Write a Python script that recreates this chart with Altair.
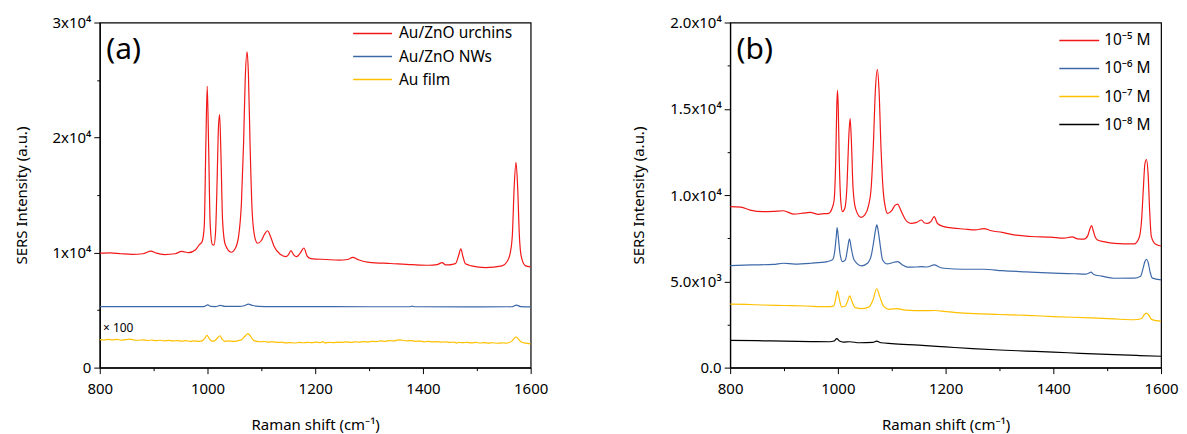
import altair as alt
import pandas as pd

FONT = "Noto Sans"

# ---------------- Panel (a) ----------------
a_series = ["Au/ZnO urchins", "Au/ZnO NWs", "Au film"]
a_colors = ["#F21818", "#3D68A8", "#FFC000"]

urchins_x = [800, 820, 840, 860, 880, 895, 905, 920, 940, 952, 965, 978, 985, 990, 994, 997, 999.5, 1002, 1005,
             1009, 1012, 1015, 1018, 1020, 1022.5, 1025, 1028, 1033, 1044, 1052, 1058, 1063, 1067, 1070, 1073.5,
             1076, 1079, 1083, 1088, 1093, 1100, 1106, 1111.5, 1117, 1124, 1135, 1145.5, 1150, 1155, 1160, 1165.5,
             1172, 1179, 1185, 1192, 1220, 1244, 1260, 1270, 1280, 1300, 1340, 1380, 1411, 1426, 1435.8, 1442,
             1448, 1455, 1460.5, 1466, 1470.4, 1474, 1479, 1490, 1516, 1547, 1556, 1562, 1566, 1569.5, 1572.8,
             1576, 1579, 1582.6, 1590, 1600]
urchins_y = [9950, 9980, 9900, 9850, 9900, 10120, 9950, 9830, 9900, 10100, 10000, 10250, 10700, 10950, 12300,
             19500, 24450, 19500, 12500, 10700, 10650, 11800, 16500, 20500, 22000, 18500, 12800, 10700, 10030,
             10400, 11500, 14300, 19500, 25000, 27450, 25500, 19500, 13500, 11300, 10810, 11050, 11600, 11900,
             11400, 10500, 9850, 9650, 9800, 10170, 9800, 9650, 9950, 10400, 9700, 9480, 9400, 9340, 9400, 9580,
             9380, 9150, 9050, 8950, 8900, 8950, 9130, 8930, 8930, 8980, 9050, 9700, 10320, 9700, 9020, 8850,
             8700, 8845, 9200, 9945, 11500, 15800, 17835, 15500, 11500, 9650, 8870, 8760]

nws_x = [800, 900, 990, 995, 1000.5, 1006, 1015, 1024, 1032, 1060, 1068, 1076, 1084, 1095, 1120, 1200, 1300,
         1375, 1380, 1385, 1500, 1565, 1573.5, 1582, 1600]
nws_y = [5300, 5300, 5300, 5330, 5460, 5320, 5310, 5410, 5320, 5320, 5380, 5520, 5400, 5330, 5310, 5300, 5290,
         5290, 5340, 5290, 5280, 5290, 5440, 5300, 5280]

film_x = [800, 808, 816, 824, 832, 840, 848, 856, 864, 872, 880, 888, 896, 904, 912, 920, 928, 936, 944, 952,
          960, 968, 976, 984, 990, 995, 999, 1003, 1008, 1013, 1018, 1023, 1027, 1032, 1040, 1048, 1056, 1064,
          1070, 1075, 1080, 1085, 1090, 1098, 1106, 1114, 1122, 1130, 1138, 1146, 1154, 1162, 1170, 1178, 1186,
          1194, 1202, 1210, 1214, 1218, 1226, 1234, 1242, 1250, 1258, 1266, 1274, 1282, 1290, 1298, 1306, 1314,
          1322, 1330, 1338, 1346, 1354, 1362, 1370, 1378, 1386, 1394, 1402, 1410, 1418, 1426, 1434, 1442, 1450,
          1458, 1462, 1466, 1474, 1482, 1490, 1498, 1506, 1514, 1522, 1530, 1538, 1546, 1554, 1560, 1565, 1570,
          1573.5, 1577, 1582, 1588, 1594, 1600]
film_y = [2440, 2400, 2460, 2410, 2450, 2390, 2430, 2470, 2400, 2380, 2420, 2360, 2400, 2340, 2380, 2330, 2370,
          2320, 2350, 2300, 2340, 2290, 2320, 2280, 2320, 2550, 2800, 2550, 2300, 2320, 2550, 2770, 2500, 2290,
          2320, 2280, 2330, 2450, 2750, 2950, 2720, 2400, 2300, 2250, 2270, 2220, 2240, 2190, 2210, 2150, 2180,
          2140, 2190, 2160, 2200, 2170, 2210, 2180, 2260, 2150, 2200, 2170, 2210, 2190, 2230, 2200, 2240, 2210,
          2260, 2230, 2290, 2260, 2320, 2290, 2350, 2320, 2420, 2380, 2330, 2350, 2290, 2310, 2250, 2280, 2230,
          2260, 2210, 2240, 2190, 2220, 2130, 2200, 2170, 2200, 2150, 2190, 2140, 2170, 2130, 2160, 2120, 2150,
          2130, 2180, 2300, 2580, 2660, 2500, 2250, 2150, 2110, 2060]

# ---------------- Panel (b) ----------------
b_series = ["10⁻⁵ M", "10⁻⁶ M", "10⁻⁷ M", "10⁻⁸ M"]
b_colors = ["#F21818", "#3D68A8", "#FFC000", "#000000"]

m5_x = [800, 820, 837, 862, 880, 899, 917.6, 935, 948.5, 964, 975, 983, 988.7, 993, 996, 998, 999.3, 1000.6,
        1002.6, 1005.5, 1008.6, 1013, 1017, 1020, 1022.7, 1025, 1028, 1033, 1043, 1050, 1057, 1062, 1066,
        1069.5, 1073.4, 1076.5, 1080, 1084, 1088, 1092, 1100, 1106, 1111, 1117, 1125, 1135.4, 1145, 1155.2,
        1161, 1166.4, 1173, 1178.8, 1185, 1197, 1215, 1234, 1255, 1271, 1285, 1305, 1327, 1360, 1395, 1420,
        1435, 1445, 1457, 1464, 1468, 1471, 1474.5, 1478, 1482, 1494, 1513, 1550, 1559, 1564, 1567, 1570,
        1573, 1576, 1579, 1582, 1590, 1600]
m5_y = [9325, 9300, 9130, 9035, 9050, 9090, 8900, 8950, 9000, 8885, 8920, 8940, 9190, 9700, 12000, 15200, 16070,
        15200, 12000, 9600, 9035, 9250, 10600, 13200, 14430, 13200, 10500, 9200, 8710, 8850, 9400, 10500,
        13000, 16000, 17270, 16000, 12800, 10300, 9300, 8940, 9100, 9400, 9480, 9100, 8600, 8365, 8400, 8555,
        8380, 8365, 8480, 8745, 8350, 8170, 8080, 8035, 7980, 8060, 7930, 7840, 7690, 7600, 7560, 7500, 7580,
        7460, 7450, 7650, 8050, 8230, 7900, 7550, 7400, 7300, 7200, 7170, 7500, 8600, 10300, 11800, 12060,
        11200, 9000, 7590, 7150, 7050]

m6_x = [800, 840, 880, 899, 920, 950, 980, 990, 994, 997, 998.6, 1001, 1004, 1008.6, 1014, 1018, 1021.5, 1025,
        1030, 1044, 1055, 1062, 1067, 1070, 1072.4, 1075, 1079, 1083, 1092, 1101, 1111, 1120, 1129, 1145, 1155,
        1165, 1179, 1190, 1197, 1234, 1271, 1305, 1350, 1400, 1440, 1460, 1466, 1470, 1475, 1490, 1513, 1550,
        1562, 1567, 1570, 1573, 1576, 1580, 1584, 1600]
m6_y = [5915, 5950, 5980, 6050, 6000, 6050, 6145, 6250, 6700, 7600, 8110, 7500, 6600, 6145, 6250, 6900, 7460,
        6900, 6250, 5900, 6050, 6500, 7400, 8000, 8270, 7900, 7000, 6240, 6010, 6080, 6145, 5950, 5820, 5830,
        5855, 5830, 5950, 5800, 5760, 5700, 5700, 5620, 5550, 5480, 5440, 5420, 5480, 5530, 5400, 5300, 5180,
        5185, 5300, 5800, 6150, 6280, 6100, 5500, 5185, 5090]

m7_x = [800, 830, 860, 900, 940, 980, 992, 996, 999.3, 1002.5, 1007, 1013, 1018, 1022, 1026, 1032, 1045, 1058,
        1065, 1072, 1078, 1085, 1095, 1110, 1125, 1160, 1180, 1200, 1234, 1300, 1350, 1400, 1470, 1513, 1550,
        1564, 1569, 1573, 1577, 1583, 1600]
m7_y = [3680, 3660, 3630, 3600, 3570, 3530, 3560, 4000, 4450, 4000, 3520, 3540, 3850, 4160, 3850, 3480, 3420,
        3520, 3900, 4570, 4100, 3550, 3380, 3420, 3330, 3300, 3310, 3250, 3160, 3080, 3030, 2960, 2880, 2820,
        2775, 2850, 3080, 3160, 3050, 2780, 2690]

m8_x = [800, 850, 900, 950, 985, 993, 998, 1003, 1010, 1022, 1040, 1065, 1072, 1080, 1100, 1150, 1200, 1250,
        1300, 1350, 1400, 1450, 1513, 1560, 1600]
m8_y = [1580, 1560, 1530, 1510, 1500, 1540, 1680, 1540, 1480, 1500, 1440, 1460, 1530, 1440, 1390, 1300, 1200,
        1100, 1020, 960, 900, 830, 750, 700, 660]


def long_df(pairs, names):
    rows = []
    for name, (xs, ys) in zip(names, pairs):
        for x, y in zip(xs, ys):
            rows.append({"shift": x, "intensity": y, "series": name})
    return pd.DataFrame(rows)


df_a = long_df([(urchins_x, urchins_y), (nws_x, nws_y), (film_x, film_y)], a_series)
df_b = long_df([(m5_x, m5_y), (m6_x, m6_y), (m7_x, m7_y), (m8_x, m8_y)], b_series)

W, H = 432, 346


def panel(df, names, colors, ymax, yvalues, ylabel_expr, ymajor_test, label, label_y,
          leg_x0, leg_x1, leg_tx, leg_top, leg_gap, extra=None):
    x = alt.X("shift:Q",
              scale=alt.Scale(domain=[800, 1600], nice=False, zero=False),
              axis=alt.Axis(title="Raman shift (cm⁻¹)", values=list(range(800, 1601, 50)), format="d",
                            labelExpr="datum.value % 200 === 0 ? datum.label : ''",
                            tickSize={"condition": {"test": "datum.value % 200 === 0", "value": 6}, "value": 3},
                            labelFlush=False, labelOverlap=False,
                            grid=False, labelPadding=8, titlePadding=21))
    y = alt.Y("intensity:Q",
              scale=alt.Scale(domain=[0, ymax], nice=False),
              axis=alt.Axis(title="SERS Intensity (a.u.)", values=yvalues, labelExpr=ylabel_expr,
                            tickSize={"condition": {"test": ymajor_test, "value": 6}, "value": 3},
                            labelFlush=False, labelOverlap=False,
                            grid=False, labelPadding=3, titlePadding=23))
    color = alt.Color("series:N", scale=alt.Scale(domain=names, range=colors), legend=None)

    lines = alt.Chart(df).mark_line(strokeWidth=1.2, interpolate="monotone", clip=True).encode(
        x=x, y=y, color=color, detail="series:N")

    lab = pd.DataFrame({"shift": [812], "intensity": [label_y], "t": [label]})
    lab_layer = alt.Chart(lab).mark_text(align="left", baseline="middle", fontSize=30, font=FONT,
                                         color="black").encode(x="shift:Q", y="intensity:Q", text="t:N")

    leg = pd.DataFrame({"series": names, "rank": list(range(len(names)))})
    legbase = alt.Chart(leg).transform_calculate(ly=f"{leg_top} + datum.rank * {leg_gap}")
    leg_rules = legbase.mark_rule(strokeWidth=1.5).encode(
        x=alt.value(leg_x0), x2=alt.value(leg_x1),
        y=alt.Y("ly:Q", scale=None, axis=None), color=color)
    leg_text = legbase.mark_text(align="left", baseline="middle", fontSize=15.5, font=FONT,
                                 color="black").encode(
        x=alt.value(leg_tx), y=alt.Y("ly:Q", scale=None, axis=None), text="series:N")

    layers = [lines, lab_layer, leg_rules, leg_text]
    if extra is not None:
        ex = pd.DataFrame({"shift": [extra[0]], "intensity": [extra[1]], "t": [extra[2]]})
        layers.append(alt.Chart(ex).mark_text(align="left", baseline="middle", fontSize=12, font=FONT,
                                              color="black").encode(x="shift:Q", y="intensity:Q", text="t:N"))
    return alt.layer(*layers).properties(width=W, height=H)


left = panel(df_a, a_series, a_colors, 30000, list(range(0, 30001, 5000)),
             "datum.value === 0 ? '0' : datum.value % 10000 === 0 ? (datum.value / 10000) + 'x10⁴' : ''",
             "datum.value % 10000 === 0", "(a)", 27600,
             254, 293, 300, 11, 23.1, extra=(806, 3450, "× 100"))

right = panel(df_b, b_series, b_colors, 20000, list(range(0, 20001, 2500)),
              "datum.value === 0 ? '0.0' : datum.value === 5000 ? '5.0x10³' : datum.value % 5000 === 0 ? "
              "format(datum.value / 10000, '.1f') + 'x10⁴' : ''",
              "datum.value % 5000 === 0", "(b)", 18400,
              330, 370, 375, 18, 28.1)

chart = alt.hconcat(left, right, spacing=82).resolve_scale(color="independent").properties(
    padding={"left": 5, "top": 6, "right": 0, "bottom": 0}
).configure_view(stroke="black", strokeWidth=1.2).configure_axis(
    domainColor="black", domainWidth=1.2, tickColor="black", tickWidth=1,
    labelColor="black", titleColor="black", labelFont=FONT, titleFont=FONT,
    labelFontSize=15, titleFontSize=15, titleFontWeight="normal"
)

chart.save("out.html", embed_options={"renderer": "svg", "actions": False})
